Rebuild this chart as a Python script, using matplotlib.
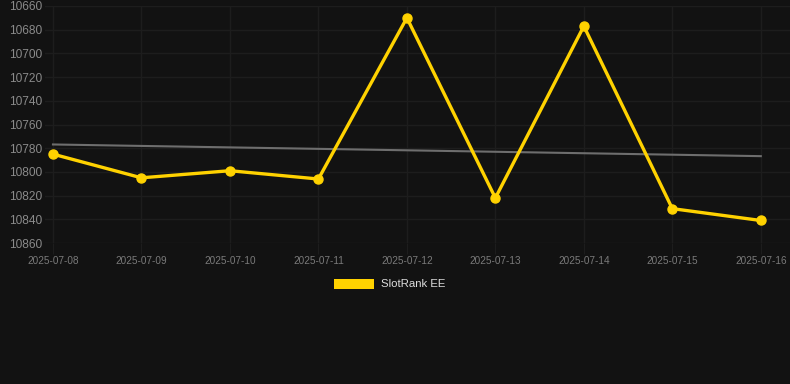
import matplotlib
matplotlib.use('Agg')
import matplotlib.pyplot as plt
import numpy as np
from matplotlib.patches import Patch

dates = ['2025-07-08', '2025-07-09', '2025-07-10', '2025-07-11', '2025-07-12',
         '2025-07-13', '2025-07-14', '2025-07-15', '2025-07-16']
ranks = [10785, 10805, 10799, 10806, 10670, 10822, 10677, 10831, 10841]
y_ticks = [10660, 10680, 10700, 10720, 10740, 10760, 10780, 10800, 10820, 10840, 10860]

bg = '#121212'
plt.rcParams['font.family'] = ['Liberation Sans', 'DejaVu Sans']

fig = plt.figure(figsize=(7.9, 3.84), dpi=100, facecolor=bg)
ax = fig.add_axes([45 / 790, (384 - 243) / 384, 1 - 45 / 790, (243 - 6) / 384])
ax.set_facecolor(bg)

x = np.arange(len(dates))
# trend line (linear fit)
coef = np.polyfit(x, ranks, 1)
ax.plot(x, np.polyval(coef, x), color='#6e6e6e', linewidth=1.5, zorder=2)
ax.plot(x, ranks, color='#FFD200', linewidth=2.4, marker='o', markersize=6.5, zorder=3)

ax.set_xlim(-0.09, 8.33)
ax.set_ylim(10860, 10660)
ax.set_yticks(y_ticks)
ax.set_xticks(x)
ax.set_xticklabels(dates)
ax.grid(True, color='#1d1d1d', linewidth=1.0)
ax.tick_params(axis='y', colors='#8a8a8a', labelsize=8.6, length=0, pad=2)
ax.tick_params(axis='x', colors='#1d1d1d', labelcolor='#7a7a7a', labelsize=7.2, length=8, pad=1)
for s in ax.spines.values():
    s.set_visible(False)

fig.legend(handles=[Patch(facecolor='#FFD200', edgecolor='none', label='SlotRank EE')],
           loc='center', bbox_to_anchor=(390 / 790, (384 - 284) / 384), frameon=False,
           labelcolor='#dddddd', fontsize=8.2, handlelength=3.5, handleheight=1.0,
           handletextpad=0.6)

fig.savefig('out.png', dpi=100, facecolor=bg)
